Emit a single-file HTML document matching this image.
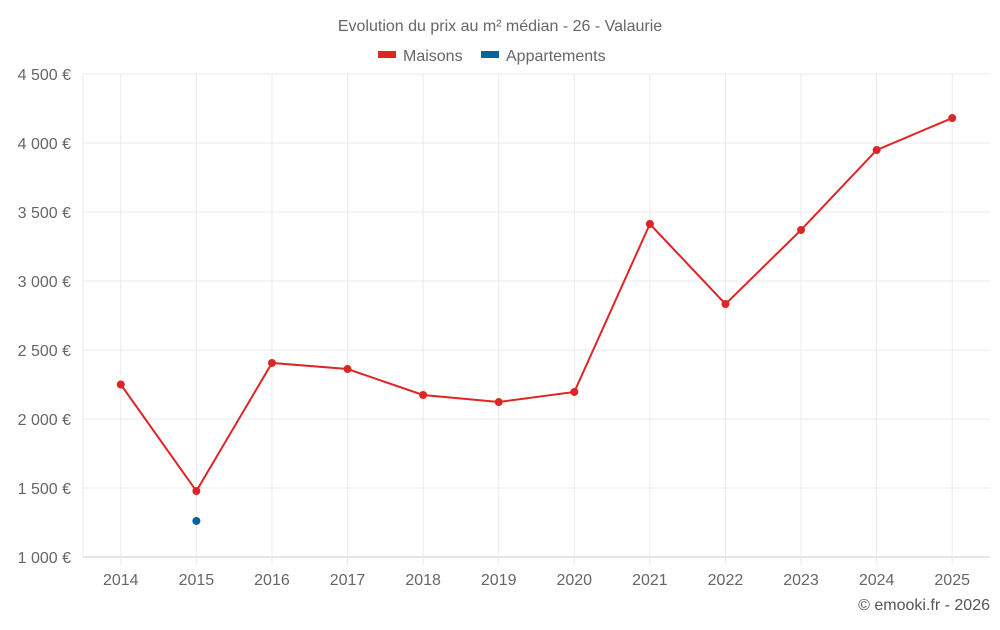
<!DOCTYPE html>
<html><head><meta charset="utf-8"><style>
body{margin:0;background:#fff;font-family:"Liberation Sans",sans-serif;}
svg text{font-family:"Liberation Sans",sans-serif;}
</style></head><body>
<svg id="chart" width="1000" height="625" xmlns="http://www.w3.org/2000/svg">
<text x="500" y="31" text-anchor="middle" font-size="16" fill="#666">Evolution du prix au m² médian - 26 - Valaurie</text>
<g>
<g><rect x="378" y="51" width="18" height="7" fill="#dc2626"/><text x="403" y="61" font-size="16" fill="#666">Maisons</text></g>
<g><rect x="481" y="51" width="18" height="7" fill="#0563a0"/><text x="506" y="61" font-size="16" fill="#666">Appartements</text></g>
</g>
<g id="grid"></g><g id="axes"></g><g id="series"></g>
<text x="990" y="610" text-anchor="end" font-size="16" fill="#555">© emooki.fr - 2026</text>
</svg>
<script>
const years=["2014","2015","2016","2017","2018","2019","2020","2021","2022","2023","2024","2025"];
const maisons=[2250,1478,2406,2362,2174,2123,2196,3413,2833,3370,3949,4181];
const appartements=[null,1261,null,null,null,null,null,null,null,null,null,null];
const yTicks=[1000,1500,2000,2500,3000,3500,4000,4500];
const yTickLabels=["1 000 €","1 500 €","2 000 €","2 500 €","3 000 €","3 500 €","4 000 €","4 500 €"];
const L=83,R=990,T=74,B=557,yMin=1000,yMax=4500;
const bw=(R-L)/years.length;
const x=i=>L+bw*(i+0.5);
const y=v=>B-(v-yMin)/(yMax-yMin)*(B-T);
const NS="http://www.w3.org/2000/svg";
function mk(tag,attrs,parent){const e=document.createElementNS(NS,tag);for(const k in attrs)e.setAttribute(k,attrs[k]);parent.appendChild(e);return e;}
const grid=document.getElementById('grid'),axes=document.getElementById('axes'),series=document.getElementById('series');
yTicks.forEach((t,i)=>{
 const l=mk('line',{x1:L,x2:R,y1:y(t),y2:y(t),stroke:i==0?'#ccc':'#ebebeb'},grid);
 
 
 const tx=mk('text',{x:71,y:y(t)+6,'text-anchor':'end','font-size':16,fill:'#666'},axes);
 tx.textContent=yTickLabels[i];
 
 
});
years.forEach((yr,i)=>{
 const l=mk('line',{x1:x(i),x2:x(i),y1:T,y2:B+8,stroke:'#ebebeb'},grid);
 
 
 const tx=mk('text',{x:x(i),y:585,'text-anchor':'middle','font-size':16,fill:'#666'},axes);
 tx.textContent=yr;
 
 
});
const ax=mk('line',{x1:L,x2:L,y1:T,y2:B,stroke:'#ebebeb'},axes);


function draw(vals,color,name){
 let d='';vals.forEach((v,i)=>{if(v!=null)d+=(d?'L':'M')+x(i)+','+y(v);});
 const p=mk('path',{d:d,fill:'none',stroke:color,'stroke-width':2},series);
 
 
 vals.forEach((v,i)=>{if(v==null)return;
  const c=mk('circle',{cx:x(i),cy:y(v),r:4,fill:color},series);
  
  
 });
}
draw(maisons,'#dc2626','maisons');
draw(appartements,'#0563a0','appartements');
</script>
</body></html>
